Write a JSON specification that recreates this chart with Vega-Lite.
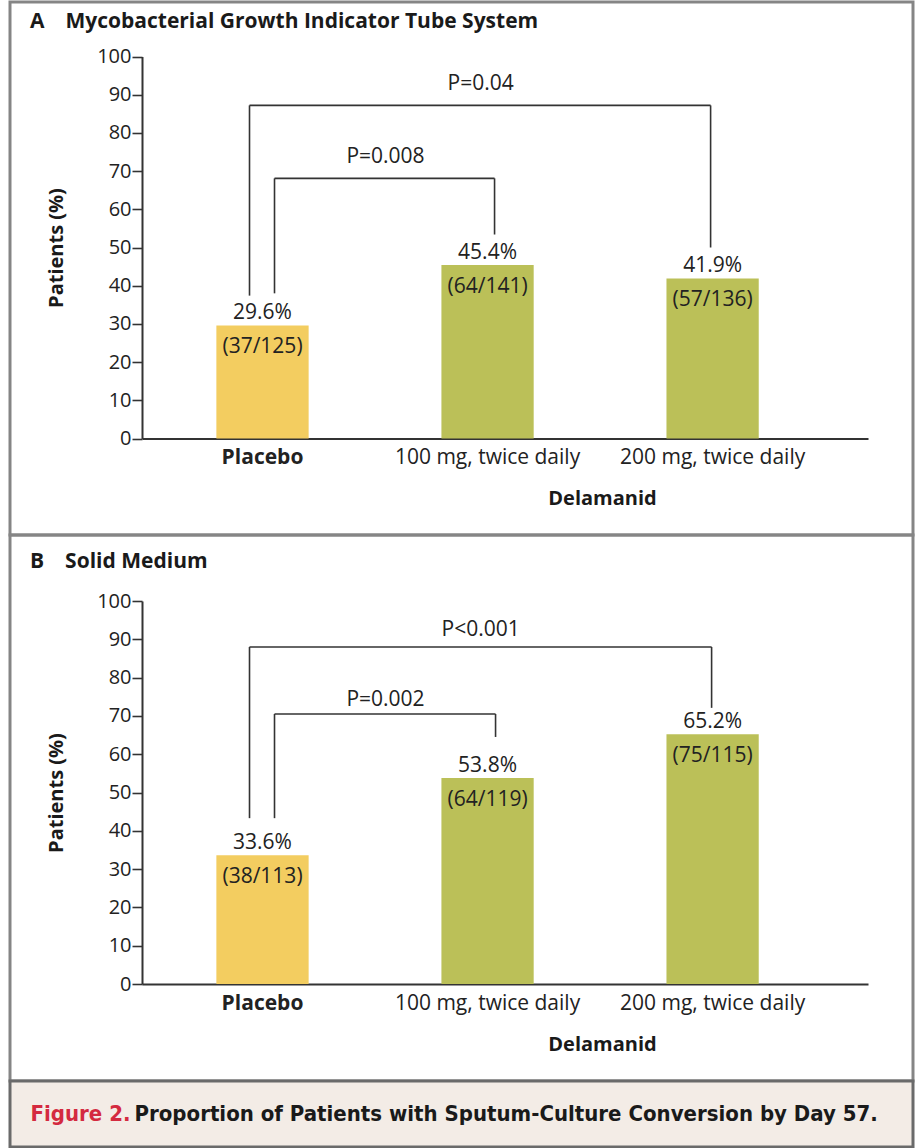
{
  "$schema": "https://vega.github.io/schema/vega-lite/v6.json",
  "padding": {"left": 8, "right": 0, "top": 0, "bottom": 0},
  "bounds": "flush",
  "spacing": 0,
  "background": "white",
  "resolve": {"scale": {"color": "independent"}},
  "config": {
    "font": "Open Sans",
    "view": {"stroke": "#858585", "strokeWidth": 3},
    "axis": {
      "labelFont": "Open Sans", "titleFont": "Open Sans",
      "labelFontSize": 20, "titleFontSize": 20, "titleFontWeight": "bold",
      "labelColor": "#222222", "titleColor": "#1a1a1a",
      "domainColor": "#333333", "tickColor": "#333333",
      "domainWidth": 2, "tickWidth": 1.6, "grid": false,
      "labelLimit": 0, "labelOverlap": false, "labelBound": false
    },
    "text": {"font": "Open Sans", "fontSize": 20, "color": "#222222"},
    "rule": {"stroke": "#333333", "strokeWidth": 1.6}
  },
  "datasets": {
    "bars": [
      {"panel": "A", "group": "Placebo", "arm": "Placebo", "pct": 29.6, "lab": "29.6%", "n": "(37/125)"},
      {"panel": "A", "group": "100 mg, twice daily", "arm": "Delamanid", "pct": 45.4, "lab": "45.4%", "n": "(64/141)"},
      {"panel": "A", "group": "200 mg, twice daily", "arm": "Delamanid", "pct": 41.9, "lab": "41.9%", "n": "(57/136)"},
      {"panel": "B", "group": "Placebo", "arm": "Placebo", "pct": 33.6, "lab": "33.6%", "n": "(38/113)"},
      {"panel": "B", "group": "100 mg, twice daily", "arm": "Delamanid", "pct": 53.8, "lab": "53.8%", "n": "(64/119)"},
      {"panel": "B", "group": "200 mg, twice daily", "arm": "Delamanid", "pct": 65.2, "lab": "65.2%", "n": "(75/115)"}
    ],
    "brackets": [
      {"panel": "A", "br": "near", "from": "Placebo", "to": "100 mg, twice daily", "top": 68.1, "fb": 38.0, "tb": 53.4, "p": "P=0.008", "py": 73.6},
      {"panel": "A", "br": "far", "from": "Placebo", "to": "200 mg, twice daily", "top": 87.2, "fb": 37.4, "tb": 50.0, "p": "P=0.04", "py": 92.9},
      {"panel": "B", "br": "near", "from": "Placebo", "to": "100 mg, twice daily", "top": 70.5, "fb": 43.3, "tb": 64.5, "p": "P=0.002", "py": 74.2},
      {"panel": "B", "br": "far", "from": "Placebo", "to": "200 mg, twice daily", "top": 88.0, "fb": 43.3, "tb": 72.1, "p": "P<0.001", "py": 92.4}
    ],
    "caption": [
      {"t": "Figure 2.", "part": "label"},
      {"t": "Proportion of Patients with Sputum-Culture Conversion by Day 57.", "part": "caption"}
    ]
  },
  "vconcat": [
    {
      "width": 903, "height": 533,
      "title": {"text": "A\u2003Mycobacterial Growth Indicator Tube System", "anchor": "start", "frame": "group", "orient": "top", "offset": -47, "baseline": "alphabetic", "dx": 20, "fontSize": 21, "fontWeight": "bold", "color": "#1a1a1a", "font": "Open Sans"},
      "layer": [
        {
          "data": {"name": "bars"}, "transform": [{"filter": "datum.panel === 'A'"}],
          "mark": {"type": "bar"},
          "encoding": {
            "x": {"field": "group", "type": "nominal", "sort": null,
              "scale": {"domain": ["Placebo", "100 mg, twice daily", "200 mg, twice daily"], "range": [132, 858], "paddingInner": 0.59, "paddingOuter": 0.408, "align": 0.405},
              "axis": {"title": "Delamanid", "offset": -96.5, "ticks": false, "labelPadding": 8, "labelAngle": 0, "titleX": 592, "titleY": 60, "titleBaseline": "middle", "labelFontSize": 21, "labelFontWeight": {"condition": {"test": "datum.value === 'Placebo'", "value": "bold"}, "value": "normal"}}},
            "y": {"field": "pct", "type": "quantitative",
              "scale": {"domain": [0, 100], "range": [436.5, 54.5], "nice": false},
              "axis": {"title": "Patients (%)", "offset": -132, "values": [0, 10, 20, 30, 40, 50, 60, 70, 80, 90, 100], "tickSize": 10, "labelPadding": 1, "titleX": -86, "titleBaseline": "middle"}},
            "color": {"field": "arm", "type": "nominal", "scale": {"domain": ["Placebo", "Delamanid"], "range": ["#f3cd60", "#bbc058"]}, "legend": null}
          }
        },
        {
          "data": {"name": "bars"}, "transform": [{"filter": "datum.panel === 'A'"}],
          "mark": {"type": "text", "baseline": "alphabetic", "dy": -6, "fontSize": 21},
          "encoding": {
            "x": {"field": "group", "type": "nominal", "sort": null},
            "y": {"field": "pct", "type": "quantitative"},
            "text": {"field": "lab"}
          }
        },
        {
          "data": {"name": "bars"}, "transform": [{"filter": "datum.panel === 'A'"}],
          "mark": {"type": "text", "baseline": "middle", "dy": 22, "fontSize": 21},
          "encoding": {
            "x": {"field": "group", "type": "nominal", "sort": null},
            "y": {"field": "pct", "type": "quantitative"},
            "text": {"field": "n"}
          }
        },
        {
          "data": {"name": "brackets"}, "transform": [{"filter": "datum.panel === 'A' && datum.br === 'near'"}],
          "mark": {"type": "rule", "xOffset": 12, "x2Offset": 7},
          "encoding": {
            "x": {"field": "from", "type": "nominal"},
            "x2": {"field": "to"},
            "y": {"field": "top", "type": "quantitative"}
          }
        },
        {
          "data": {"name": "brackets"}, "transform": [{"filter": "datum.panel === 'A' && datum.br === 'near'"}],
          "mark": {"type": "rule", "xOffset": 12},
          "encoding": {
            "x": {"field": "from", "type": "nominal"},
            "y": {"field": "fb", "type": "quantitative"},
            "y2": {"field": "top"}
          }
        },
        {
          "data": {"name": "brackets"}, "transform": [{"filter": "datum.panel === 'A' && datum.br === 'near'"}],
          "mark": {"type": "rule", "xOffset": 7},
          "encoding": {
            "x": {"field": "to", "type": "nominal"},
            "y": {"field": "tb", "type": "quantitative"},
            "y2": {"field": "top"}
          }
        },
        {
          "data": {"name": "brackets"}, "transform": [{"filter": "datum.panel === 'A' && datum.br === 'near'"}],
          "mark": {"type": "text", "baseline": "middle", "xOffset": 123, "fontSize": 21},
          "encoding": {
            "x": {"field": "from", "type": "nominal"},
            "y": {"field": "py", "type": "quantitative"},
            "text": {"field": "p"}
          }
        },
        {
          "data": {"name": "brackets"}, "transform": [{"filter": "datum.panel === 'A' && datum.br === 'far'"}],
          "mark": {"type": "rule", "xOffset": -13, "x2Offset": -2},
          "encoding": {
            "x": {"field": "from", "type": "nominal"},
            "x2": {"field": "to"},
            "y": {"field": "top", "type": "quantitative"}
          }
        },
        {
          "data": {"name": "brackets"}, "transform": [{"filter": "datum.panel === 'A' && datum.br === 'far'"}],
          "mark": {"type": "rule", "xOffset": -13},
          "encoding": {
            "x": {"field": "from", "type": "nominal"},
            "y": {"field": "fb", "type": "quantitative"},
            "y2": {"field": "top"}
          }
        },
        {
          "data": {"name": "brackets"}, "transform": [{"filter": "datum.panel === 'A' && datum.br === 'far'"}],
          "mark": {"type": "rule", "xOffset": -2},
          "encoding": {
            "x": {"field": "to", "type": "nominal"},
            "y": {"field": "tb", "type": "quantitative"},
            "y2": {"field": "top"}
          }
        },
        {
          "data": {"name": "brackets"}, "transform": [{"filter": "datum.panel === 'A' && datum.br === 'far'"}],
          "mark": {"type": "text", "baseline": "middle", "xOffset": -232, "fontSize": 21},
          "encoding": {
            "x": {"field": "to", "type": "nominal"},
            "y": {"field": "py", "type": "quantitative"},
            "text": {"field": "p"}
          }
        }
      ]
    },
    {
      "width": 903, "height": 546,
      "title": {"text": "B\u2003Solid Medium", "anchor": "start", "frame": "group", "orient": "top", "offset": -54, "baseline": "alphabetic", "dx": 20, "fontSize": 21, "fontWeight": "bold", "color": "#1a1a1a", "font": "Open Sans"},
      "layer": [
        {
          "data": {"name": "bars"}, "transform": [{"filter": "datum.panel === 'B'"}],
          "mark": {"type": "bar"},
          "encoding": {
            "x": {"field": "group", "type": "nominal", "sort": null,
              "scale": {"domain": ["Placebo", "100 mg, twice daily", "200 mg, twice daily"], "range": [132, 858], "paddingInner": 0.59, "paddingOuter": 0.408, "align": 0.405},
              "axis": {"title": "Delamanid", "offset": -97, "ticks": false, "labelPadding": 8, "labelAngle": 0, "titleX": 592, "titleY": 60, "titleBaseline": "middle", "labelFontSize": 21, "labelFontWeight": {"condition": {"test": "datum.value === 'Placebo'", "value": "bold"}, "value": "normal"}}},
            "y": {"field": "pct", "type": "quantitative",
              "scale": {"domain": [0, 100], "range": [449, 66], "nice": false},
              "axis": {"title": "Patients (%)", "offset": -132, "values": [0, 10, 20, 30, 40, 50, 60, 70, 80, 90, 100], "tickSize": 10, "labelPadding": 1, "titleX": -86, "titleBaseline": "middle"}},
            "color": {"field": "arm", "type": "nominal", "scale": {"domain": ["Placebo", "Delamanid"], "range": ["#f3cd60", "#bbc058"]}, "legend": null}
          }
        },
        {
          "data": {"name": "bars"}, "transform": [{"filter": "datum.panel === 'B'"}],
          "mark": {"type": "text", "baseline": "alphabetic", "dy": -6, "fontSize": 21},
          "encoding": {
            "x": {"field": "group", "type": "nominal", "sort": null},
            "y": {"field": "pct", "type": "quantitative"},
            "text": {"field": "lab"}
          }
        },
        {
          "data": {"name": "bars"}, "transform": [{"filter": "datum.panel === 'B'"}],
          "mark": {"type": "text", "baseline": "middle", "dy": 22, "fontSize": 21},
          "encoding": {
            "x": {"field": "group", "type": "nominal", "sort": null},
            "y": {"field": "pct", "type": "quantitative"},
            "text": {"field": "n"}
          }
        },
        {
          "data": {"name": "brackets"}, "transform": [{"filter": "datum.panel === 'B' && datum.br === 'near'"}],
          "mark": {"type": "rule", "xOffset": 12, "x2Offset": 8},
          "encoding": {
            "x": {"field": "from", "type": "nominal"},
            "x2": {"field": "to"},
            "y": {"field": "top", "type": "quantitative"}
          }
        },
        {
          "data": {"name": "brackets"}, "transform": [{"filter": "datum.panel === 'B' && datum.br === 'near'"}],
          "mark": {"type": "rule", "xOffset": 12},
          "encoding": {
            "x": {"field": "from", "type": "nominal"},
            "y": {"field": "fb", "type": "quantitative"},
            "y2": {"field": "top"}
          }
        },
        {
          "data": {"name": "brackets"}, "transform": [{"filter": "datum.panel === 'B' && datum.br === 'near'"}],
          "mark": {"type": "rule", "xOffset": 8},
          "encoding": {
            "x": {"field": "to", "type": "nominal"},
            "y": {"field": "tb", "type": "quantitative"},
            "y2": {"field": "top"}
          }
        },
        {
          "data": {"name": "brackets"}, "transform": [{"filter": "datum.panel === 'B' && datum.br === 'near'"}],
          "mark": {"type": "text", "baseline": "middle", "xOffset": 123, "fontSize": 21},
          "encoding": {
            "x": {"field": "from", "type": "nominal"},
            "y": {"field": "py", "type": "quantitative"},
            "text": {"field": "p"}
          }
        },
        {
          "data": {"name": "brackets"}, "transform": [{"filter": "datum.panel === 'B' && datum.br === 'far'"}],
          "mark": {"type": "rule", "xOffset": -13, "x2Offset": -1},
          "encoding": {
            "x": {"field": "from", "type": "nominal"},
            "x2": {"field": "to"},
            "y": {"field": "top", "type": "quantitative"}
          }
        },
        {
          "data": {"name": "brackets"}, "transform": [{"filter": "datum.panel === 'B' && datum.br === 'far'"}],
          "mark": {"type": "rule", "xOffset": -13},
          "encoding": {
            "x": {"field": "from", "type": "nominal"},
            "y": {"field": "fb", "type": "quantitative"},
            "y2": {"field": "top"}
          }
        },
        {
          "data": {"name": "brackets"}, "transform": [{"filter": "datum.panel === 'B' && datum.br === 'far'"}],
          "mark": {"type": "rule", "xOffset": -1},
          "encoding": {
            "x": {"field": "to", "type": "nominal"},
            "y": {"field": "tb", "type": "quantitative"},
            "y2": {"field": "top"}
          }
        },
        {
          "data": {"name": "brackets"}, "transform": [{"filter": "datum.panel === 'B' && datum.br === 'far'"}],
          "mark": {"type": "text", "baseline": "middle", "xOffset": -232, "fontSize": 21},
          "encoding": {
            "x": {"field": "to", "type": "nominal"},
            "y": {"field": "py", "type": "quantitative"},
            "text": {"field": "p"}
          }
        }
      ]
    },
    {
      "width": 903, "height": 66,
      "view": {"fill": "#f3ece6", "stroke": "#6a6a6a", "strokeWidth": 3},
      "layer": [
        {
          "data": {"name": "caption"}, "transform": [{"filter": "datum.part === 'label'"}],
          "mark": {"type": "text", "align": "left", "baseline": "middle", "dx": -431, "font": "DejaVu Sans Condensed", "fontSize": 22, "fontWeight": "bold", "color": "#d42a3f"},
          "encoding": {"text": {"field": "t"}}
        },
        {
          "data": {"name": "caption"}, "transform": [{"filter": "datum.part === 'caption'"}],
          "mark": {"type": "text", "align": "left", "baseline": "middle", "dx": -327, "font": "DejaVu Sans Condensed", "fontSize": 22, "fontWeight": "bold", "color": "#1a1a1a"},
          "encoding": {"text": {"field": "t"}}
        }
      ]
    }
  ]
}
